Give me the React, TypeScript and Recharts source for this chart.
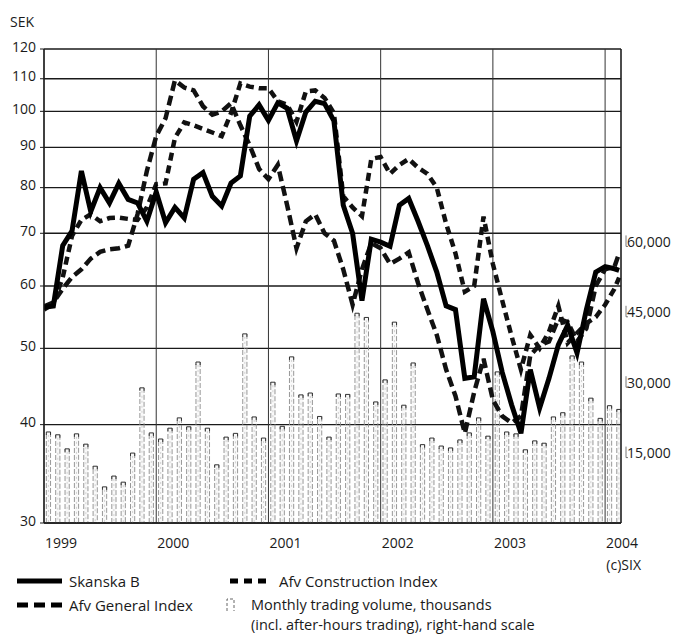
import React from "react"
import { ComposedChart, Bar, Line, XAxis, YAxis, CartesianGrid } from "recharts"

// x axis: months since Jan 1999
const years = ["1999", "2000", "2001", "2002", "2003", "2004"]
const yearTicks = [0, 12, 24, 36, 48, 60]
const priceTicks = [30, 40, 50, 60, 70, 80, 90, 100, 110, 120]
const volumeTicks = [15, 30, 45, 60]

// month-start closes, last one is the latest quote (mid Feb 2004)
const skanska = [
  56.4, 56.6, 67.5, 70.5, 84, 74.6, 80, 76.5, 81, 77.3,
  76.5, 72.5, 79, 72.2, 75.5, 73.2, 82, 83.6, 78, 75.8,
  81.1, 82.8, 98.6, 101.9, 97.4, 102.5, 100.9, 91.7, 99.8, 103,
  102.3, 97.3, 76, 70, 57.5, 68.8, 68.2, 67.4, 76, 77.5,
  72.5, 67.5, 62.5, 56.6, 56, 45.8, 46, 57.8, 52.5, 46.6,
  42.4, 39, 47, 42, 45.8, 50.5, 53.5, 49.3, 56, 62.5,
  63.5, 63.1, 62.8,
]
const construction = [
  56, 57, 61.5, 69.5, 72.8, 74, 72.5, 73.2, 73.3, 73,
  72.8, 75.5, 80.8, 81, 92.5, 96.8, 96, 95, 94, 93,
  99.5, 108.5, 107.5, 107, 107, 103, 102, 97, 106, 106.3,
  104, 99.5, 78, 75.5, 73.6, 87, 87.5, 83.3, 85.5, 87,
  84.8, 83.3, 80, 72, 66, 59, 60, 73.5, 64, 57.5,
  51.8, 47, 52, 50, 52.5, 56.6, 50.8, 52.3, 53.8, 54.8,
  56.8, 59.5, 61.5,
]
const general = [
  56.5, 57.2, 59.5, 61.6, 63, 65, 66.3, 66.8, 67, 67.5,
  74, 84, 93, 98, 109.5, 107.2, 106.3, 101.5, 99, 100,
  102.4, 96, 90.5, 84.5, 82, 85.5, 76, 67, 72.5, 74,
  70, 68.5, 63, 56.8, 63, 68, 67, 64, 65, 66.2,
  60.5, 56, 52, 47, 43.5, 39, 44, 48.5, 43, 41,
  40.2, 41, 49, 50.5, 51, 54.5, 54, 51, 53, 60,
  63, 63.5, 66,
]
// monthly trading volume, thousands (Jan 1999 - Feb 2004)
const volume = [
  19.4, 18.8, 15.8, 19.0, 16.8, 12.1, 7.7, 10.0, 8.7, 14.9,
  28.8, 19.2, 17.9, 20.2, 22.4, 20.5, 34.3, 20.2, 12.4, 18.3,
  19.1, 40.3, 22.6, 18.1, 30.0, 20.6, 35.4, 27.3, 27.7, 22.7,
  18.3, 27.5, 27.4, 44.7, 43.8, 25.8, 30.5, 42.8, 25.1, 34.1,
  16.7, 18.1, 16.4, 16.0, 17.7, 19.2, 22.4, 18.5, 32.2, 19.4,
  19.0, 15.6, 17.5, 17.0, 22.6, 23.5, 35.6, 34.3, 26.6, 22.3,
  25.0, 24.2,
]

const FONT = '"Open Sans", "Noto Sans", sans-serif'
const INK = "#1a1a1a"

// prices sit on month starts, volume bars in the middle of each month
const rows: any[] = []
volume.forEach((v, k) => {
  rows.push({ t: k, skanska: skanska[k], construction: construction[k], general: general[k] })
  rows.push({ t: k + 0.5, volume: v })
})
const lastRow = rows[rows.length - 1]
lastRow.skanska = skanska[skanska.length - 1]
lastRow.construction = construction[construction.length - 1]
lastRow.general = general[general.length - 1]

const VolumeBar = (props: any) => {
  const { x, y, width, height } = props
  if (!height || height <= 0) return <g />
  const b = y + height
  return (
    <g>
      <rect x={x} y={y} width={width} height={height} fill="#000" fillOpacity={0.025} />
      <path d={`M${x},${b}V${y}`} stroke="#8c8c8c" strokeWidth={0.9} strokeDasharray="5 2" />
      <path d={`M${x + width},${y}V${b}`} stroke="#8c8c8c" strokeWidth={0.9} strokeDasharray="5 2" />
      <path d={`M${x + width / 2},${y + 3}V${b}`} stroke="#c8c8c8" strokeWidth={0.8} strokeDasharray="2 3" />
      <path d={`M${x},${y + 3}V${y}H${x + width}V${y + 3}`} stroke="#333" strokeWidth={1} fill="none" />
    </g>
  )
}

const PriceTick = ({ x, y, payload }: any) => (
  <text x={x - 2} y={y - 3} textAnchor="end" dominantBaseline="central" fontSize={14} fontFamily={FONT} fill={INK}>
    {payload.value}
  </text>
)

const VolumeTick = ({ x, y, payload }: any) => (
  <g>
    <path d={`M${x + 5},${y - 6}V${y + 5}H${x + 7}`} stroke="#555" strokeWidth={0.8} fill="none" />
    <text x={x + 6} y={y} dominantBaseline="central" fontSize={14} fontFamily={FONT} fill={INK}>
      {(payload.value * 1000).toLocaleString("en-US")}
    </text>
  </g>
)

const YearTick = ({ x, y, index }: any) => (
  <text x={x + 1} y={y + 19} dominantBaseline="central" fontSize={14} fontFamily={FONT} fill={INK}>
    {years[index]}
  </text>
)

export default function App() {
  return (
    <div style={{ position: "relative", width: 673, height: 639, background: "#fff", overflow: "hidden" }}>
      <style>{"body{margin:0}"}</style>
      <ComposedChart width={673} height={560} data={rows} margin={{ top: 49, right: 0, bottom: 0, left: 0 }}>
        <CartesianGrid vertical={false} stroke={INK} strokeWidth={1.4} />
        <CartesianGrid horizontal={false} stroke="#333" strokeWidth={1} />
        <XAxis
          dataKey="t"
          type="number"
          domain={[0, 61.7]}
          allowDataOverflow
          ticks={yearTicks}
          tick={<YearTick />}
          tickLine={false}
          tickSize={0}
          tickMargin={0}
          height={37}
          axisLine={{ stroke: INK, strokeWidth: 1.4 }}
        />
        <YAxis
          scale="log"
          type="number"
          domain={[30, 120]}
          allowDataOverflow
          ticks={priceTicks}
          tick={<PriceTick />}
          tickSize={4}
          tickMargin={2}
          tickLine={{ stroke: INK }}
          width={44}
          axisLine={{ stroke: INK, strokeWidth: 1.4 }}
        />
        <YAxis
          yAxisId="right"
          orientation="right"
          type="number"
          domain={[0, 101]}
          allowDataOverflow
          ticks={volumeTicks}
          tick={<VolumeTick />}
          tickLine={false}
          tickSize={0}
          tickMargin={0}
          width={52}
          axisLine={{ stroke: INK, strokeWidth: 1.2 }}
        />
        <Bar yAxisId="right" dataKey="volume" barSize={6} shape={<VolumeBar />} isAnimationActive={false} />
        <Line
          dataKey="general"
          type="linear"
          stroke="#111"
          strokeWidth={4.5}
          strokeDasharray="10 5"
          dot={false}
          connectNulls
          isAnimationActive={false}
        />
        <Line
          dataKey="construction"
          type="linear"
          stroke="#111"
          strokeWidth={4.5}
          strokeDasharray="8 5"
          dot={false}
          connectNulls
          isAnimationActive={false}
        />
        <Line
          dataKey="skanska"
          type="linear"
          stroke="#000"
          strokeWidth={5}
          dot={false}
          connectNulls
          isAnimationActive={false}
        />
      </ComposedChart>

      <svg
        width={673}
        height={639}
        style={{ position: "absolute", left: 0, top: 0, pointerEvents: "none" }}
        fontFamily={FONT}
        fill={INK}
      >
        <text x={10} y={21} fontSize={14} dominantBaseline="central">SEK</text>
        <text x={641} y={564} fontSize={14} textAnchor="end" dominantBaseline="central">(c)SIX</text>

        {/* legend */}
        <line x1={17} x2={62} y1={581} y2={581} stroke="#000" strokeWidth={5} />
        <text x={69} y={581} fontSize={15} dominantBaseline="central">Skanska B</text>

        <line x1={230} x2={266} y1={581} y2={581} stroke="#000" strokeWidth={5} strokeDasharray="8 6" />
        <text x={279} y={581} fontSize={15} dominantBaseline="central">Afv Construction Index</text>

        <line x1={17} x2={62} y1={605} y2={605} stroke="#000" strokeWidth={5} strokeDasharray="11 6" />
        <text x={69} y={605} fontSize={15} dominantBaseline="central">Afv General Index</text>

        <path d="M227,611V599H234V611" stroke="#555" strokeWidth={0.9} strokeDasharray="3 2" fill="none" />
        <text x={251} y={610} fontSize={14.5}>
          <tspan x={251}>Monthly trading volume, thousands</tspan>
          <tspan x={251} dy={20}>(incl. after-hours trading), right-hand scale</tspan>
        </text>
      </svg>
    </div>
  )
}
